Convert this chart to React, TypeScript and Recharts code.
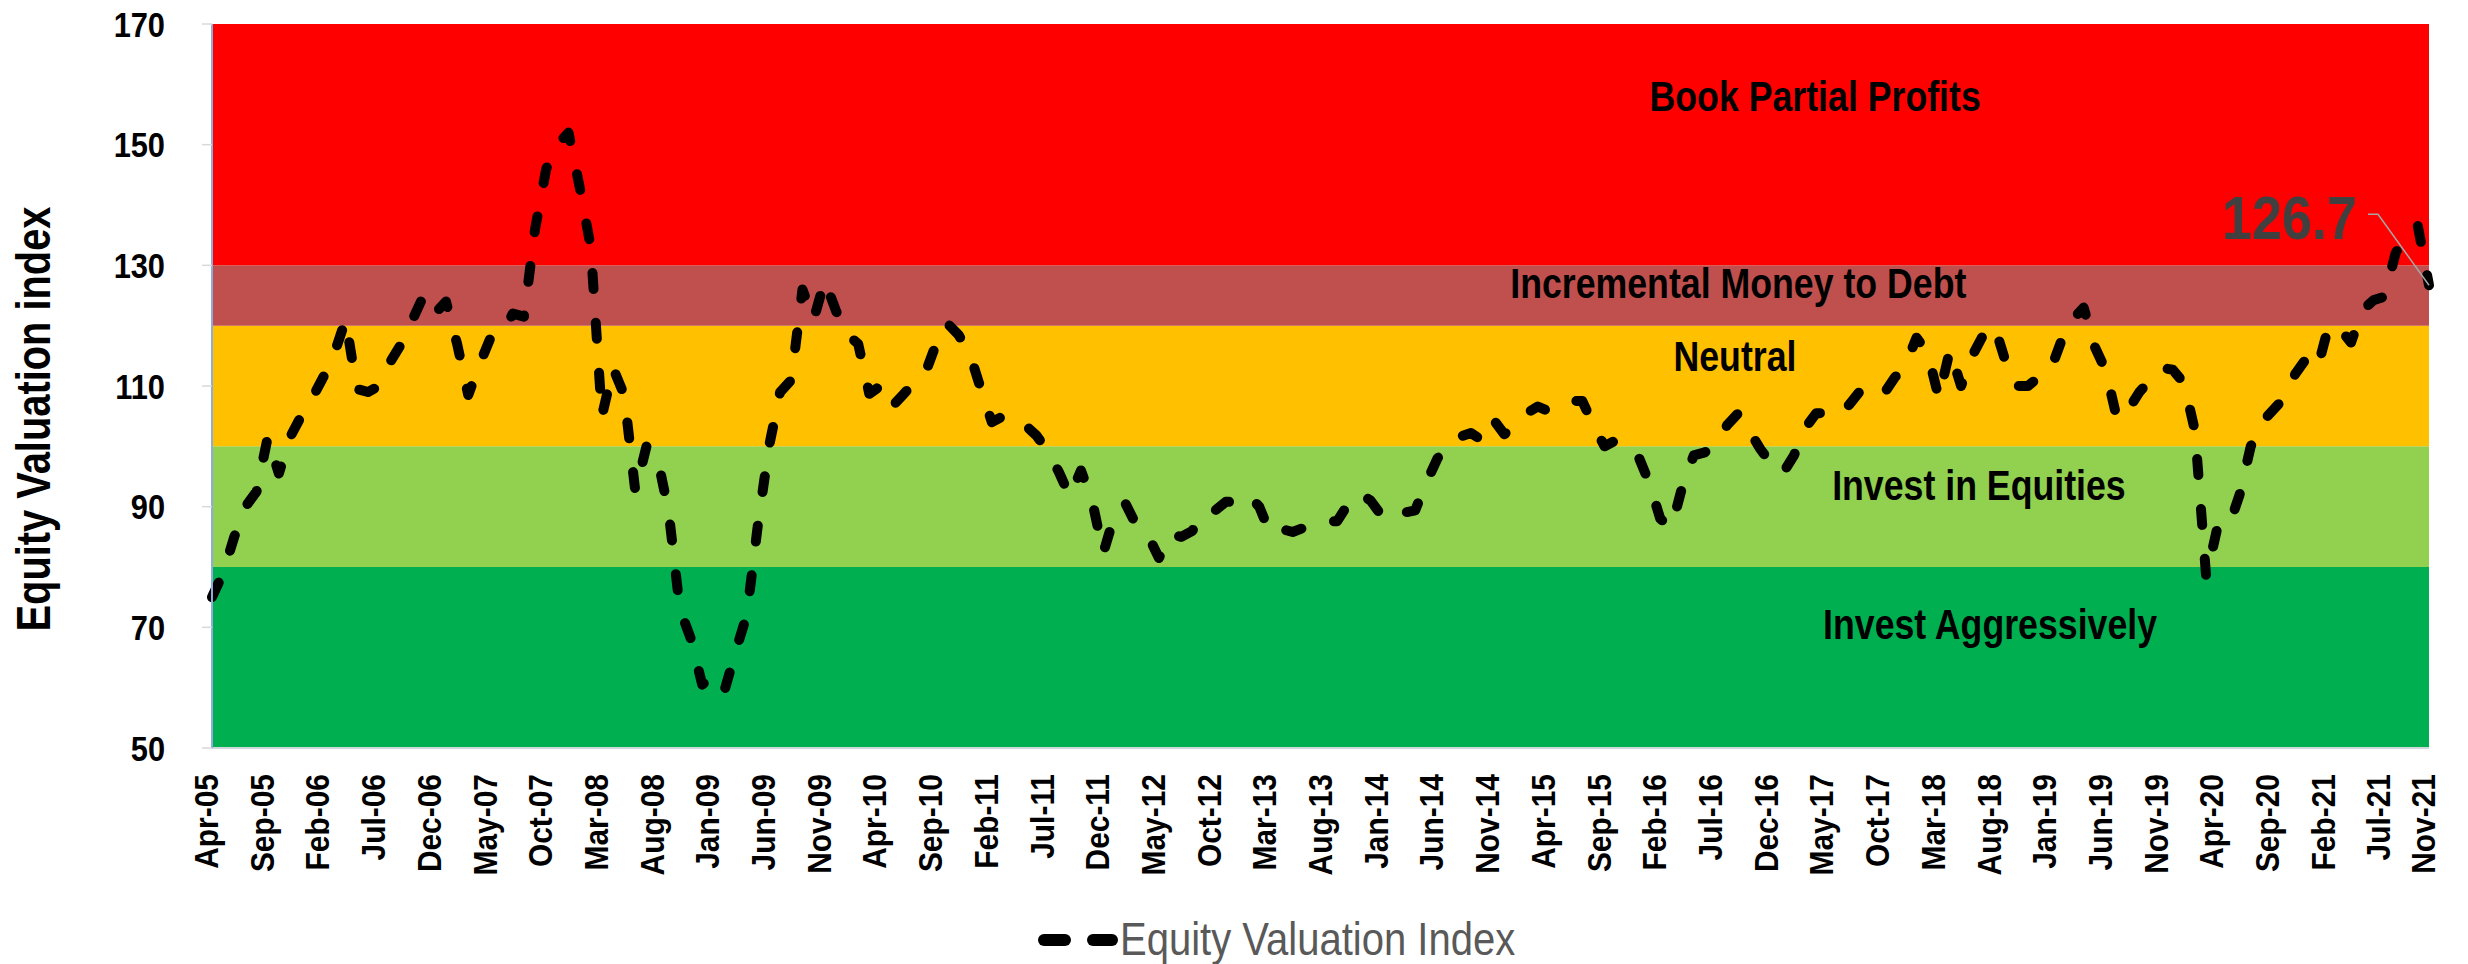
import React from 'react'
import {
  LineChart,
  Line,
  XAxis,
  YAxis,
  ReferenceArea,
  ReferenceDot,
  LabelList,
  Label,
} from 'recharts'

// Equity Valuation Index, monthly, Apr-05 .. Nov-21
const EVI_2005_2009 = [
  75, 79, 85, 90, 92.5, 101.5, 95.5, 101.5, 105, // 2005 Apr-Dec
  108, 111.5, 115.5, 121, 109.5, 109, 110, 114, 117, 121, 125, 122, // 2006
  124, 117, 108.5, 113.5, 118, 118.5, 122, 121.5, 136, 146, 150, 152, // 2007
  143, 133, 105, 113, 108.5, 92.5, 100, 98, 89, 73, 68, 60.5, // 2008
  62, 59.5, 66, 72, 87, 100, 109, 111, 126, 121, 127.5, 122.5, // 2009
]
const EVI_2010_2014 = [
  118.5, 117, 108.7, 110, 106.5, 108.5, 110.5, 112, 117, 120.4, 118.5, 115.5, // 2010
  109.6, 104, 105, 105, 103.5, 101.8, 99.3, 95.8, 91.7, 96, 91, 82.3, // 2011
  88.5, 90.5, 86.8, 85.3, 81.5, 85.5, 85, 86, 89.2, 89.3, 90.8, 90.8, // 2012
  92, 90, 85.5, 86.3, 85.8, 86.5, 87.4, 87.5, 87.6, 90.5, 92.3, 91, // 2013
  88.5, 87.8, 89, 89.4, 94, 98, 100.5, 101.6, 102.2, 101, 104.5, 102, // 2014
]
const EVI_2015_2019 = [
  103.5, 105.5, 106.6, 105.8, 106.6, 107.5, 107.5, 103.5, 100, 101, 100.2, 98.5, // 2015
  94, 88, 86.5, 93.5, 98.5, 99, 100.5, 103.5, 105.5, 102.5, 99.5, 97, // 2016
  95.5, 98.5, 103, 105.5, 105.5, 105, 107, 109.3, 108.2, 108.5, 111.3, 113.5, // 2017
  118, 115.5, 108, 116, 110, 115, 118.5, 120, 114, 110, 110, 111.5, // 2018
  112.5, 117.5, 121, 123, 116.5, 112.5, 104.5, 106, 109, 111, 113, 112.7, // 2019
]
const EVI_2020_2021 = [
  110.5, 102.5, 78.3, 86.5, 86.5, 92, 100, 104, 106, 108, 112, 114.6, // 2020
  113, 120, 119.5, 117.2, 122.5, 124.2, 124.8, 132, 135.5, 136.5, 126.7, // 2021 Jan-Nov
]
const EVI = [...EVI_2005_2009, ...EVI_2010_2014, ...EVI_2015_2019, ...EVI_2020_2021]

const MONTH_NAMES = ['Jan', 'Feb', 'Mar', 'Apr', 'May', 'Jun', 'Jul', 'Aug', 'Sep', 'Oct', 'Nov', 'Dec']
const FIRST_YEAR = 2005
const FIRST_MONTH = 3 // April

const CATEGORIES = EVI.map((_, i) => {
  const m = FIRST_MONTH + i
  const yy = (FIRST_YEAR + Math.floor(m / 12)) % 100
  return `${MONTH_NAMES[m % 12]}-${String(yy).padStart(2, '0')}`
})

const TICK_LABELS = [
  'Apr-05', 'Sep-05', 'Feb-06', 'Jul-06', 'Dec-06', 'May-07', 'Oct-07', 'Mar-08',
  'Aug-08', 'Jan-09', 'Jun-09', 'Nov-09', 'Apr-10', 'Sep-10', 'Feb-11', 'Jul-11',
  'Dec-11', 'May-12', 'Oct-12', 'Mar-13', 'Aug-13', 'Jan-14', 'Jun-14', 'Nov-14',
  'Apr-15', 'Sep-15', 'Feb-16', 'Jul-16', 'Dec-16', 'May-17', 'Oct-17', 'Mar-18',
  'Aug-18', 'Jan-19', 'Jun-19', 'Nov-19', 'Apr-20', 'Sep-20', 'Feb-21', 'Jul-21',
  'Nov-21',
]
const Y_TICKS = [50, 70, 90, 110, 130, 150, 170]

// valuation zones (bounds) and their names
const ZONE_BOUNDS = [50, 80, 100, 120, 130, 170]
const ZONE_NAMES = [
  'Invest Aggressively',
  'Invest in Equities',
  'Neutral',
  'Incremental Money to Debt',
  'Book Partial Profits',
]

const ZONE_COLORS = ['#00B050', '#92D050', '#FFC000', '#C0504D', '#FF0000']
// where each zone name sits (month index, index value)
const ZONE_LABEL_SPOTS = [
  { x: 159.6, y: 70.6 },
  { x: 158.6, y: 93.6 },
  { x: 136.7, y: 115 },
  { x: 137, y: 127.1 },
  { x: 143.9, y: 158.1 },
]

const FONT = "'Liberation Sans', Arial, sans-serif"

const rows = EVI.map((v, i) => ({ idx: i, month: CATEGORIES[i], evi: v }))
const tickIdx = TICK_LABELS.map((t) => CATEGORIES.indexOf(t))

function XTick(props: any) {
  const { x, y, payload } = props
  return (
    <text
      transform={`translate(${x + 6},${y}) rotate(-90) scale(0.88,1)`}
      textAnchor="end"
      fontSize={34}
      fontWeight="bold"
      fontFamily={FONT}
      fill="#000"
    >
      {CATEGORIES[payload.value]}
    </text>
  )
}

function YTick(props: any) {
  const { x, y, payload } = props
  return (
    <text
      transform={`translate(${x},${y + 12.5}) scale(0.88,1)`}
      textAnchor="end"
      fontSize={35}
      fontWeight="bold"
      fontFamily={FONT}
      fill="#000"
    >
      {payload.value}
    </text>
  )
}

function YTitle(props: any) {
  const { viewBox } = props
  const cx = viewBox.x + 50
  const cy = viewBox.y + viewBox.height / 2 + 33
  return (
    <text
      transform={`translate(${cx},${cy}) rotate(-90) scale(0.83,1)`}
      textAnchor="middle"
      fontSize={48}
      fontWeight="bold"
      fontFamily={FONT}
      fill="#000"
    >
      Equity Valuation index
    </text>
  )
}

function zoneLabel(text: string) {
  return (p: any) => (
    <text
      transform={`translate(${p.cx},${p.cy + 15}) scale(0.85,1)`}
      textAnchor="middle"
      fontSize={42}
      fontWeight="bold"
      fontFamily={FONT}
      fill="#000"
    >
      {text}
    </text>
  )
}

function LastValue(props: any) {
  const { x, y, value, index } = props
  if (index !== EVI.length - 1) return null
  return (
    <g>
      <polyline
        points={`${x - 61},${y - 71} ${x - 51},${y - 71} ${x},${y}`}
        fill="none"
        stroke="#A6A6A6"
        strokeWidth={1.5}
      />
      <text
        transform={`translate(${x - 72},${y - 46}) scale(0.87,1)`}
        textAnchor="end"
        fontSize={62}
        fontWeight="bold"
        fontFamily={FONT}
        fill="#404040"
      >
        {value}
      </text>
    </g>
  )
}

export default function App() {
  return (
    <div
      style={{
        position: 'absolute',
        left: 0,
        top: 0,
        width: 2468,
        height: 964,
        background: '#fff',
      }}
    >
      <LineChart
        width={2468}
        height={964}
        data={rows}
        margin={{ top: 24, right: 39, bottom: 0, left: 0 }}
      >
        {ZONE_NAMES.map((name, i) => (
          <ReferenceArea
            key={name}
            y1={ZONE_BOUNDS[i]}
            y2={ZONE_BOUNDS[i + 1]}
            fill={ZONE_COLORS[i]}
            fillOpacity={1}
            stroke="none"
          />
        ))}
        <XAxis
          dataKey="idx"
          type="number"
          domain={[0, EVI.length - 1]}
          ticks={tickIdx}
          interval={0}
          height={216}
          tickLine={false}
          tickSize={6}
          tickMargin={20}
          axisLine={{ stroke: '#D0D8DC', strokeWidth: 2 }}
          tick={(p: any) => <XTick {...p} />}
        />
        <YAxis
          type="number"
          domain={[50, 170]}
          ticks={Y_TICKS}
          interval={0}
          width={212}
          tickSize={10}
          tickMargin={37}
          tickLine={{ stroke: '#D9D9D9', strokeWidth: 1.5 }}
          axisLine={{ stroke: '#8FAADC', strokeWidth: 2 }}
          tick={(p: any) => <YTick {...p} />}
        >
          <Label content={(p: any) => <YTitle {...p} />} />
        </YAxis>
        <YAxis
          yAxisId="right"
          orientation="right"
          domain={[50, 170]}
          width={0}
          tick={false}
          tickLine={false}
          axisLine={{ stroke: '#A9BCE0', strokeWidth: 1.5 }}
        />
        {ZONE_NAMES.map((name, i) => (
          <ReferenceDot
            key={`lbl-${name}`}
            x={ZONE_LABEL_SPOTS[i].x}
            y={ZONE_LABEL_SPOTS[i].y}
            r={0}
            shape={zoneLabel(name)}
          />
        ))}
        <Line
          type="linear"
          dataKey="evi"
          stroke="#000"
          strokeWidth={10}
          strokeDasharray="16 34"
          strokeLinecap="round"
          strokeLinejoin="round"
          dot={false}
          activeDot={false}
          isAnimationActive={false}
        >
          <LabelList dataKey="evi" content={(p: any) => <LastValue {...p} />} />
        </Line>
      </LineChart>
      <svg
        width={520}
        height={60}
        style={{ position: 'absolute', left: 1030, top: 904 }}
      >
        <line x1={14} y1={36} x2={35} y2={36} stroke="#000" strokeWidth={12} strokeLinecap="round" />
        <line x1={63} y1={36} x2={82} y2={36} stroke="#000" strokeWidth={12} strokeLinecap="round" />
        <text
          transform="translate(90,51) scale(0.87,1)"
          fontSize={46}
          fontFamily={FONT}
          fill="#595959"
        >
          Equity Valuation Index
        </text>
      </svg>
    </div>
  )
}
